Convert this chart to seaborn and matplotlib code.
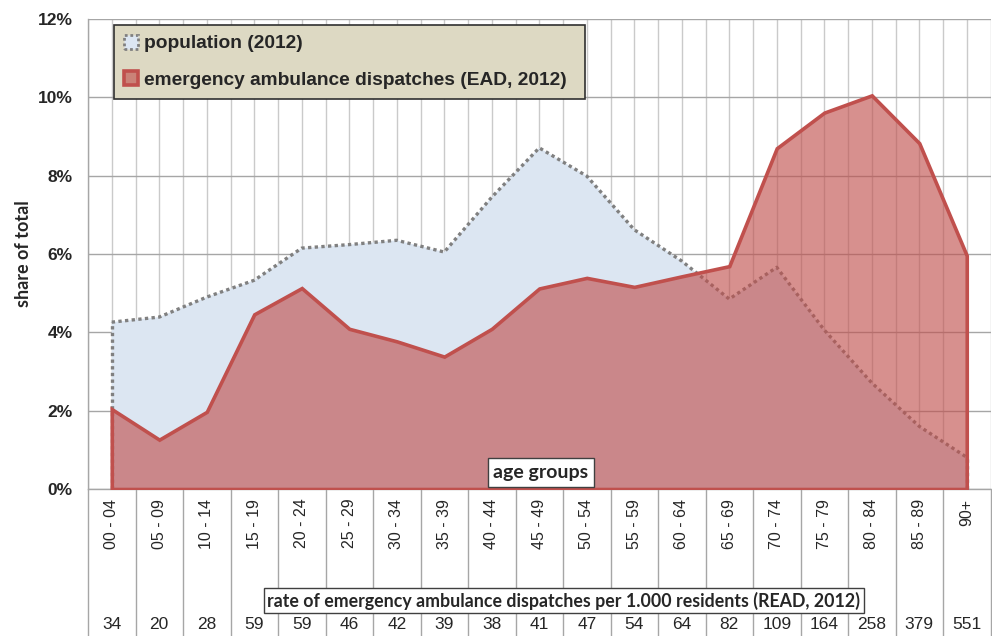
import matplotlib
matplotlib.use("Agg")
import matplotlib.pyplot as plt
import matplotlib.transforms as mtransforms
from matplotlib.ticker import FuncFormatter, MultipleLocator
import seaborn as sns
import pandas as pd
import numpy as np

# --- datos ---
age_groups = ['00 - 04', '05 - 09', '10 - 14', '15 - 19', '20 - 24', '25 - 29',
              '30 - 34', '35 - 39', '40 - 44', '45 - 49', '50 - 54', '55 - 59',
              '60 - 64', '65 - 69', '70 - 74', '75 - 79', '80 - 84', '85 - 89', '90+']
population = [4.26, 4.39, 4.90, 5.33, 6.15, 6.24, 6.35, 6.05, 7.45, 8.71,
              7.99, 6.62, 5.82, 4.85, 5.66, 4.06, 2.71, 1.60, 0.81]
ead = [2.04, 1.26, 1.97, 4.46, 5.13, 4.09, 3.77, 3.38, 4.09, 5.12,
       5.39, 5.16, 5.43, 5.69, 8.70, 9.61, 10.05, 8.83, 5.96]
read_rate = [34, 20, 28, 59, 59, 46, 42, 39, 38, 41, 47, 54, 64, 82,
             109, 164, 258, 379, 551]

df = pd.DataFrame({'pos': np.arange(len(age_groups)), 'age': age_groups,
                   'population': population, 'ead': ead, 'read': read_rate})

sns.set_style("white")
plt.rcParams['font.family'] = ['Liberation Sans', 'DejaVu Sans']

fig = plt.figure(figsize=(9.92, 6.36), dpi=100)
ax = fig.add_axes([88 / 992, 1 - 489 / 636, 902.5 / 992, 470 / 636])

red = '#c0504d'
grid_h = '#a6a6a6'
grid_v = '#cacaca'

# areas
pop_fill = ax.fill_between(df['pos'], 0, df['population'], facecolor='#dce6f2',
                           edgecolor='none', zorder=2, label='population (2012)')
sns.lineplot(data=df, x='pos', y='population', ax=ax, color='#808080',
             lw=2.4, linestyle=(0, (1, 1)), zorder=3)
ax.vlines([df['pos'].iloc[0], df['pos'].iloc[-1]], 0,
          [df['population'].iloc[0], df['population'].iloc[-1]],
          colors='#808080', lw=2.4, linestyles=[(0, (1, 1))], zorder=3)

ead_fill = ax.fill_between(df['pos'], 0, df['ead'], facecolor=(0.753, 0.314, 0.302, 0.63),
                           edgecolor=red, lw=2.6, zorder=4,
                           label='emergency ambulance dispatches (EAD, 2012)')
ead_fill.set_joinstyle('miter')

# ejes
ax.set_xlim(-0.5, 18.5)
ax.set_ylim(0, 12)
ax.yaxis.set_major_locator(MultipleLocator(2))
ax.yaxis.set_major_formatter(FuncFormatter(lambda v, p: f'{v:.0f}%'))
ax.set_xticks(df['pos'])
ax.set_xticklabels(df['age'], rotation=90, fontsize=11.5, va='top')
ax.set_xticks(np.arange(-0.5, 19, 1), minor=True)
ax.tick_params(axis='x', which='both', length=0, pad=7)
ax.tick_params(axis='y', length=6, width=1, color=grid_h, pad=5, labelsize=12.5)
for lab in ax.get_yticklabels():
    lab.set_fontweight('bold')
ax.set_xlabel('')
ax.set_ylabel('share of total', fontsize=13, fontweight='bold', family=['Lato', 'DejaVu Sans'],
              labelpad=4)

ax.grid(axis='y', color=grid_h, lw=1, zorder=0)
ax.grid(axis='x', which='both', color=grid_v, lw=1, zorder=0)
ax.set_axisbelow(True)
for s in ['top', 'right']:
    ax.spines[s].set_visible(False)
for s in ['left', 'bottom']:
    ax.spines[s].set_color(grid_h)
    ax.spines[s].set_linewidth(1)

# tabla de categorias bajo el eje
trans = mtransforms.blended_transform_factory(ax.transData, ax.transAxes)
ax.vlines(np.arange(-0.5, 19, 1), -0.32, 0, transform=trans, colors=grid_h,
          lw=1, clip_on=False, zorder=1)
for i, r in enumerate(df['read']):
    ax.text(i, -0.289, str(r), transform=trans, ha='center', va='center',
            fontsize=12.5, clip_on=False)

ax.text(0.527, -0.238, 'rate of emergency ambulance dispatches per 1.000 residents (READ, 2012)',
        transform=ax.transAxes, ha='center', va='center', fontsize=12.8, fontweight='bold',
        family=['Lato', 'DejaVu Sans'], zorder=6,
        bbox=dict(boxstyle='square,pad=0.2', facecolor='white', edgecolor='#404040', lw=1))

ax.text(0.502, 0.035, 'age groups', transform=ax.transAxes, ha='center', va='center',
        fontsize=14, fontweight='bold', family=['Lato', 'DejaVu Sans'], zorder=6,
        bbox=dict(boxstyle='square,pad=0.3', facecolor='white', edgecolor='#404040', lw=1))

# leyenda
x0 = (114 - 88) / 902.5
w = (585 - 114) / 902.5
leg = ax.legend(handles=[pop_fill, ead_fill], loc='upper left',
                bbox_to_anchor=(x0, (489 - 25) / 470 - 0.2, w, 0.2), mode='expand',
                frameon=True, fancybox=False, facecolor='#ddd9c3', edgecolor='#303030',
                framealpha=1, borderaxespad=0, borderpad=0.5, labelspacing=1.0,
                handlelength=0.75, handleheight=0.75, handletextpad=0.3,
                prop={'weight': 'bold', 'size': 13.8})
leg.get_frame().set_linewidth(1.2)
# el marcador de poblacion lleva borde punteado
leg.legend_handles[0].set_edgecolor('#808080')
leg.legend_handles[0].set_linestyle((0, (1, 1)))
leg.legend_handles[0].set_linewidth(2)
leg.set_zorder(7)

fig.savefig('out.png', dpi=100)
